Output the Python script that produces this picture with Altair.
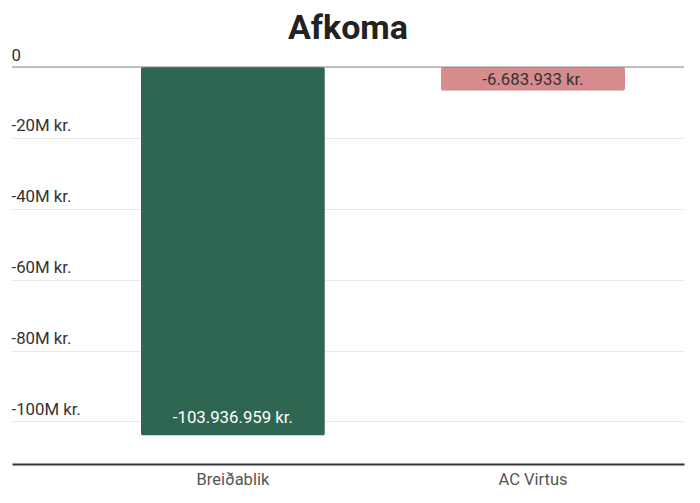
import altair as alt
import pandas as pd

teams = ["Breiðablik", "AC Virtus"]
afkoma = [-103936959, -6683933]
value_labels = ["-103.936.959 kr.", "-6.683.933 kr."]
bar_colors = ["#2f6652", "#d68b8d"]
text_colors = ["#ffffff", "#333333"]
y_ticks = [0, -20000000, -40000000, -60000000, -80000000, -100000000]

df = pd.DataFrame({
    "team": teams,
    "value": afkoma,
    "label": value_labels,
    "bcolor": bar_colors,
    "tcolor": text_colors,
})

x = alt.X(
    "team:N", sort=teams, title=None,
    scale=alt.Scale(paddingInner=0.387, paddingOuter=0.313, align=0.686),
    axis=alt.Axis(labelAngle=0, domainColor="#333333", domainWidth=2, ticks=False,
                  labelFontSize=16.5, labelColor="#555555", labelPadding=7, grid=False),
)
y = alt.Y(
    "value:Q", title=None,
    scale=alt.Scale(domain=[-112000000, 0], nice=False),
    axis=alt.Axis(
        values=y_ticks,
        labelExpr="datum.value == 0 ? '0' : '-' + (abs(datum.value) / 1000000) + 'M kr.'",
        labelAlign="left", labelBaseline="bottom", labelPadding=1, labelOffset=-3,
        tickSize=0, ticks=False, domain=False, gridColor="#e8e8e8",
        labelFontSize=16.8, labelColor="#333333",
    ),
)

base = alt.Chart(df)
bars = base.mark_bar(cornerRadius=2).encode(
    x=x, y=y, color=alt.Color("bcolor:N", scale=None)
)
zero = alt.Chart(pd.DataFrame({"z": [0]})).mark_rule(color="#888888", strokeWidth=1).encode(
    y=alt.Y("z:Q")
)
txt_big = base.transform_filter(alt.datum.team == teams[0]).mark_text(
    baseline="bottom", dy=-8, fontSize=16.8
).encode(x=x, y=y, text="label:N", color=alt.Color("tcolor:N", scale=None))
txt_small = base.transform_filter(alt.datum.team == teams[1]).mark_text(
    baseline="bottom", dy=-2, fontSize=16.8
).encode(x=x, y=y, text="label:N", color=alt.Color("tcolor:N", scale=None))

chart = alt.layer(bars, zero, txt_big, txt_small).properties(
    width=672, height=397,
    title=alt.TitleParams("Afkoma", fontSize=34, font="Roboto", fontWeight="bold",
                          color="#222222", anchor="middle", offset=1),
    padding={"left": 3, "top": 4, "right": 5, "bottom": 5},
).configure(font="Roboto").configure_view(stroke=None)

chart.save("out.html", embed_options={"renderer": "svg", "actions": False})
